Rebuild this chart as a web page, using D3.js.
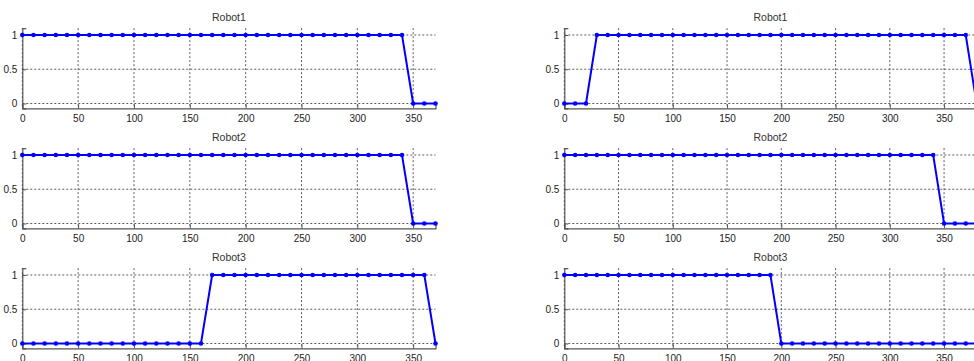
<!DOCTYPE html>
<html>
<head>
<meta charset="utf-8">
<script src="https://cdn.jsdelivr.net/npm/d3@7"></script>
<style>
  body { margin: 0; background: #fff; }
  svg { display: block; font-family: "Liberation Sans", Arial, sans-serif; }
</style>
</head>
<body>
<svg width="974" height="361"></svg>
<script>
// time steps
var tLeft  = [0,10,20,30,40,50,60,70,80,90,100,110,120,130,140,150,160,170,180,190,200,210,220,230,240,250,260,270,280,290,300,310,320,330,340,350,360,370];
var tRight = [0,10,20,30,40,50,60,70,80,90,100,110,120,130,140,150,160,170,180,190,200,210,220,230,240,250,260,270,280,290,300,310,320,330,340,350,360,370,380];

// left column
var leftRobot1 = [1,1,1,1,1,1,1,1,1,1,1,1,1,1,1,1,1,1,1,1,1,1,1,1,1,1,1,1,1,1,1,1,1,1,1,0,0,0];
var leftRobot2 = [1,1,1,1,1,1,1,1,1,1,1,1,1,1,1,1,1,1,1,1,1,1,1,1,1,1,1,1,1,1,1,1,1,1,1,0,0,0];
var leftRobot3 = [0,0,0,0,0,0,0,0,0,0,0,0,0,0,0,0,0,1,1,1,1,1,1,1,1,1,1,1,1,1,1,1,1,1,1,1,1,0];

// right column
var rightRobot1 = [0,0,0,1,1,1,1,1,1,1,1,1,1,1,1,1,1,1,1,1,1,1,1,1,1,1,1,1,1,1,1,1,1,1,1,1,1,1,0];
var rightRobot2 = [1,1,1,1,1,1,1,1,1,1,1,1,1,1,1,1,1,1,1,1,1,1,1,1,1,1,1,1,1,1,1,1,1,1,1,0,0,0,0];
var rightRobot3 = [1,1,1,1,1,1,1,1,1,1,1,1,1,1,1,1,1,1,1,1,0,0,0,0,0,0,0,0,0,0,0,0,0,0,0,0,0,0,0];

var titles = ["Robot1", "Robot2", "Robot3"];
var xTicks = [0,50,100,150,200,250,300,350];
var yTicks = [0,0.5,1];
var yTickLabels = ["0","0.5","1"];

var svg = d3.select("svg");

var columns = [
  { t: tLeft,  series: [leftRobot1, leftRobot2, leftRobot3],   domain: [0, 370], range: [22.3, 435.5] },
  { t: tRight, series: [rightRobot1, rightRobot2, rightRobot3], domain: [0, 380], range: [564.3, 976.6] }
];

columns.forEach(function(col) {
  var x = d3.scaleLinear().domain(col.domain).range(col.range);

  col.series.forEach(function(vals, i) {
    var off = i * 120;
    var y = d3.scaleLinear().domain([-0.07, 1.1]).range([108.3 + off, 28.15 + off]);
    var g = svg.append("g");

    // grid
    g.selectAll(".vg").data(xTicks).enter().append("line")
      .attr("x1", d => x(d)).attr("x2", d => x(d))
      .attr("y1", y.range()[1]).attr("y2", y.range()[0])
      .attr("stroke", "#333").attr("stroke-width", 0.8)
      .attr("stroke-dasharray", "2,2");
    g.selectAll(".hg").data(yTicks).enter().append("line")
      .attr("x1", x.range()[0]).attr("x2", x.range()[1])
      .attr("y1", d => y(d)).attr("y2", d => y(d))
      .attr("stroke", "#333").attr("stroke-width", 0.8)
      .attr("stroke-dasharray", "2,2");

    // axes
    var xa = g.append("g").attr("transform", "translate(0," + y.range()[0] + ")")
      .call(d3.axisBottom(x).tickValues(xTicks).tickSize(-4).tickPadding(6.5).tickFormat(d3.format("d")));
    var ya = g.append("g").attr("transform", "translate(" + x.range()[0] + ",0)")
      .call(d3.axisLeft(y).tickValues(yTicks).tickSize(-4).tickPadding(5)
        .tickFormat((d, k) => yTickLabels[k]));
    [xa, ya].forEach(function(a) {
      a.select(".domain").attr("stroke", "#555").attr("stroke-width", 1.2);
      a.selectAll(".tick line").attr("stroke", "#555");
      a.selectAll(".tick text").attr("fill", "#222").style("font-size", "10px");
    });

    // title
    g.append("text")
      .attr("x", (x.range()[0] + x.range()[1]) / 2)
      .attr("y", 21 + off)
      .attr("text-anchor", "middle")
      .attr("fill", "#333")
      .style("font-size", "10.5px")
      .text(titles[i]);

    // data
    var pts = col.t.map((tt, k) => [tt, vals[k]]);
    g.append("path").datum(pts)
      .attr("fill", "none").attr("stroke", "#0000ff").attr("stroke-width", 2)
      .attr("d", d3.line().x(d => x(d[0])).y(d => y(d[1])));
    g.selectAll(".m").data(pts).enter().append("circle")
      .attr("cx", d => x(d[0])).attr("cy", d => y(d[1]))
      .attr("r", 2.3).attr("fill", "#0000ff");
  });
});
</script>
</body>
</html>
